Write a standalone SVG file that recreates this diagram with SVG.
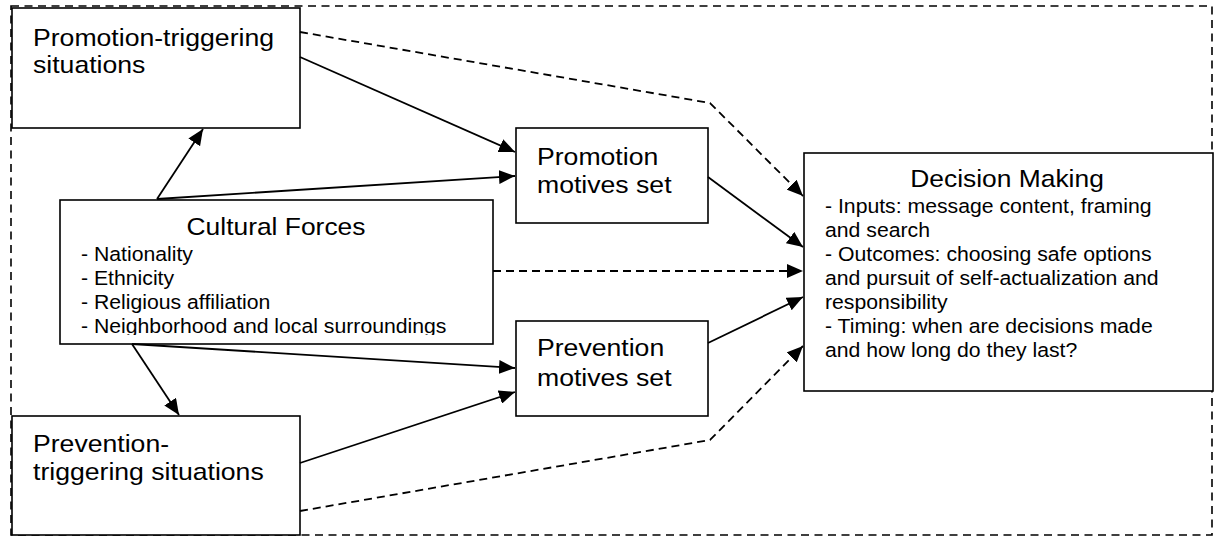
<svg xmlns="http://www.w3.org/2000/svg" width="1222" height="537" viewBox="0 0 1222 537">
<style>
.box{fill:#fff;stroke:#000;stroke-width:1.6}
.t{font-family:"Liberation Sans",Arial,sans-serif;fill:#000}
.lbl{font-size:24.2px}
.ttl{font-size:24px}
.body{font-size:19.3px}
.c{fill:none;stroke:#000;stroke-width:1.8}
.d{stroke-dasharray:8 5}
</style>
<defs>
<marker id="ah" markerUnits="userSpaceOnUse" markerWidth="17" markerHeight="14" refX="16" refY="7" orient="auto">
<path d="M0,0 L16,7 L0,14 z" fill="#000"/>
</marker>
<clipPath id="cfclip"><rect x="60" y="200" width="433" height="135"/></clipPath>
</defs>
<rect id="frame" x="11" y="6" width="1201" height="529" fill="none" stroke="#000" stroke-width="1.6" stroke-dasharray="8 5.5"/>
<g id="promo-trig">
<rect class="box" x="12" y="8" width="288" height="120"/>
<g transform="translate(33,0) scale(1.1,1)">
<text class="t lbl" x="0" y="46">Promotion-triggering</text>
<text class="t lbl" x="0" y="73">situations</text>
</g>
</g>
<g id="cultural">
<rect class="box" x="60" y="200" width="433" height="144"/>
<g transform="translate(276,0) scale(1.1,1)">
<text class="t ttl" x="0" y="235" text-anchor="middle">Cultural Forces</text>
</g>
<g clip-path="url(#cfclip)">
<g transform="translate(81,0) scale(1.1,1)">
<text class="t body" x="0" y="261">- Nationality</text>
<text class="t body" x="0" y="285">- Ethnicity</text>
<text class="t body" x="0" y="309">- Religious affiliation</text>
<text class="t body" x="0" y="333">- Neighborhood and local surroundings</text>
</g>
</g>
</g>
<g id="prev-trig">
<rect class="box" x="12" y="416" width="288" height="119"/>
<g transform="translate(33,0) scale(1.1,1)">
<text class="t lbl" x="0" y="452">Prevention-</text>
<text class="t lbl" x="0" y="480">triggering situations</text>
</g>
</g>
<g id="promo-motives">
<rect class="box" x="516" y="128" width="192" height="95"/>
<g transform="translate(537,0) scale(1.1,1)">
<text class="t lbl" x="0" y="165">Promotion</text>
<text class="t lbl" x="0" y="193">motives set</text>
</g>
</g>
<g id="prev-motives">
<rect class="box" x="516" y="321" width="192" height="95"/>
<g transform="translate(537,0) scale(1.1,1)">
<text class="t lbl" x="0" y="356">Prevention</text>
<text class="t lbl" x="0" y="386">motives set</text>
</g>
</g>
<g id="decision">
<rect class="box" x="804" y="153" width="409" height="238"/>
<g transform="translate(1007,0) scale(1.1,1)">
<text class="t ttl" x="0" y="187" text-anchor="middle">Decision Making</text>
</g>
<g transform="translate(825,0) scale(1.1,1)">
<text class="t body" x="0" y="213">- Inputs: message content, framing</text>
<text class="t body" x="0" y="237">and search</text>
<text class="t body" x="0" y="261">- Outcomes: choosing safe options</text>
<text class="t body" x="0" y="285">and pursuit of self-actualization and</text>
<text class="t body" x="0" y="309">responsibility</text>
<text class="t body" x="0" y="333">- Timing: when are decisions made</text>
<text class="t body" x="0" y="357">and how long do they last?</text>
</g>
</g>
<g id="connectors">
<line class="c" x1="300" y1="57" x2="515" y2="152" marker-end="url(#ah)"/>
<line class="c" x1="157" y1="199" x2="203" y2="129" marker-end="url(#ah)"/>
<line class="c" x1="157" y1="199" x2="515" y2="176" marker-end="url(#ah)"/>
<line class="c" x1="708" y1="177" x2="803" y2="247" marker-end="url(#ah)"/>
<line class="c" x1="132" y1="344" x2="179" y2="415" marker-end="url(#ah)"/>
<line class="c" x1="132" y1="344" x2="515" y2="368" marker-end="url(#ah)"/>
<line class="c" x1="300" y1="463" x2="515" y2="392" marker-end="url(#ah)"/>
<line class="c" x1="708" y1="343" x2="803" y2="297" marker-end="url(#ah)"/>
<polyline class="c d" points="300,32 710,103 803,196" marker-end="url(#ah)"/>
<line class="c d" x1="493" y1="271" x2="803" y2="271" marker-end="url(#ah)"/>
<polyline class="c d" points="300,511 710,440 803,346" marker-end="url(#ah)"/>
</g>
</svg>
